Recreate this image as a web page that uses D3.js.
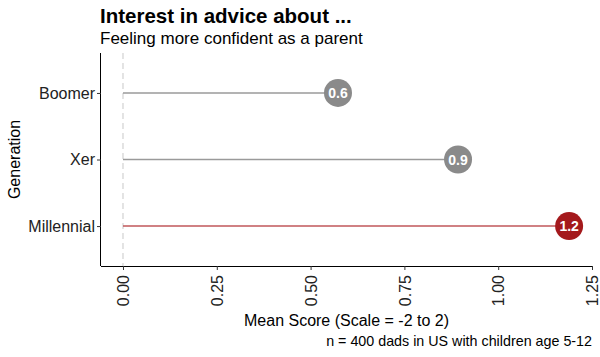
<!DOCTYPE html>
<html><head><meta charset="utf-8">
<script src="https://cdn.jsdelivr.net/npm/d3@7"></script>
<style>body{margin:0;background:#fff}text{font-family:"Liberation Sans",Arial,Helvetica,sans-serif}</style>
</head><body>
<svg id="c" width="600" height="357"></svg>
<script>
const categories = ["Boomer", "Xer", "Millennial"];
const values = [0.573, 0.893, 1.189];
const labels = ["0.6", "0.9", "1.2"];
const highlight = [false, false, true];
const xTicks = [0, 0.25, 0.5, 0.75, 1.0, 1.25];

(function(){
const svg = d3.select("#c");
const pL = 101, pR = 592, pT = 53, pB = 266;
const x = d3.scaleLinear().domain([-0.0586, 1.25]).range([pL, pR]);
const y = d3.scalePoint().domain(categories).range([pT, pB]).padding(0.6);

// title
svg.append("text").attr("x", 100).attr("y", 23).attr("font-size", 20.5).attr("font-weight", "bold").text("Interest in advice about ...");
svg.append("text").attr("x", 100).attr("y", 44).attr("font-size", 17).text("Feeling more confident as a parent");

// zero line
svg.append("line").attr("x1", x(0)).attr("x2", x(0)).attr("y1", pT).attr("y2", pB)
  .attr("stroke", "#c8c8c8").attr("stroke-width", 1).attr("stroke-dasharray", "6,4");

// axes
const xa = svg.append("g").attr("transform", `translate(0,${pB})`)
  .call(d3.axisBottom(x).tickValues(xTicks).tickFormat(d3.format(".2f")).tickSize(4).tickSizeOuter(0));
xa.select(".domain").attr("stroke", "#000").attr("d", `M${pL},0.5H${pR}`);
xa.selectAll(".tick line").attr("stroke", "#333");
xa.selectAll(".tick text").attr("transform", "rotate(-90)").attr("text-anchor", "end")
  .attr("x", -9).attr("y", 0).attr("dy", "0.35em").attr("font-size", 16).attr("fill", "#222");

const ya = svg.append("g").attr("transform", `translate(${pL},0)`)
  .call(d3.axisLeft(y).tickSize(4).tickSizeOuter(0));
ya.select(".domain").attr("stroke", "#000").attr("d", `M-0.5,${pT}V${pB}`);
ya.selectAll(".tick line").attr("stroke", "#333");
ya.selectAll(".tick text").attr("font-size", 16).attr("fill", "#222").attr("x", -6);
svg.selectAll(".tick text").style("font-family", '"Liberation Sans",Arial,sans-serif');

// axis titles
svg.append("text").attr("x", (pL + pR) / 2).attr("y", 326).attr("text-anchor", "middle").attr("font-size", 16).text("Mean Score (Scale = -2 to 2)");
svg.append("text").attr("transform", `translate(20,${(pT + pB) / 2}) rotate(-90)`).attr("text-anchor", "middle").attr("font-size", 16).text("Generation");
svg.append("text").attr("x", 592).attr("y", 346).attr("text-anchor", "end").attr("font-size", 14.3).text("n = 400 dads in US with children age 5-12");

// lollipops
const data = categories.map((c, i) => ({c, v: values[i], l: labels[i], h: highlight[i]}));
const g = svg.append("g");
g.selectAll("line.stem").data(data).join("line").attr("class", "stem")
  .attr("x1", x(0)).attr("x2", d => x(d.v)).attr("y1", d => y(d.c)).attr("y2", d => y(d.c))
  .attr("stroke", d => d.h ? "#c0575a" : "#9a9a9a").attr("stroke-width", 1.5);
g.selectAll("circle").data(data).join("circle")
  .attr("cx", d => x(d.v)).attr("cy", d => y(d.c)).attr("r", 14)
  .attr("fill", d => d.h ? "#a4191c" : "#8a8a8a");
g.selectAll("text.lab").data(data).join("text").attr("class", "lab")
  .attr("x", d => x(d.v)).attr("y", d => y(d.c)).attr("dy", "0.36em").attr("text-anchor", "middle")
  .attr("font-size", 14).attr("font-weight", "bold").attr("fill", "#fff").text(d => d.l);
})();
</script>
</body></html>
